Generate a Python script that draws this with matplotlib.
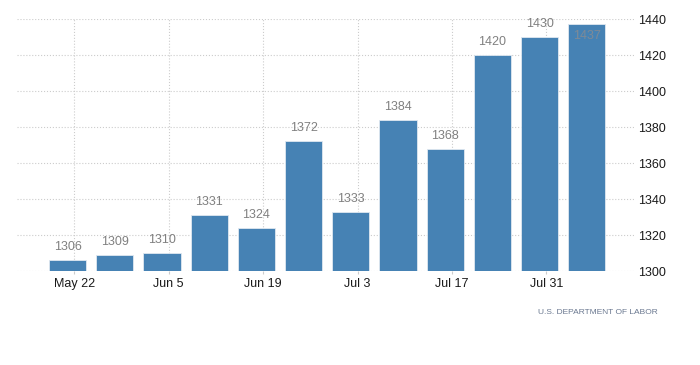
import numpy as np
import matplotlib
matplotlib.use('Agg')
import matplotlib.pyplot as plt
from datetime import datetime

plt.rcParams['font.family'] = ['Liberation Sans', 'DejaVu Sans']

weeks = ['2016-05-21', '2016-05-28', '2016-06-04', '2016-06-11', '2016-06-18', '2016-06-25',
         '2016-07-02', '2016-07-09', '2016-07-16', '2016-07-23', '2016-07-30', '2016-08-06']
claims = [1306, 1309, 1310, 1331, 1324, 1372, 1333, 1384, 1368, 1420, 1430, 1437]
tick_days = ['2016-05-22', '2016-06-05', '2016-06-19', '2016-07-03', '2016-07-17', '2016-07-31']
tick_labels = ['May 22', 'Jun 5', 'Jun 19', 'Jul 3', 'Jul 17', 'Jul 31']

dates = [datetime.strptime(d, '%Y-%m-%d') for d in weeks]
ticks = [datetime.strptime(d, '%Y-%m-%d') for d in tick_days]

fig = plt.figure(figsize=(7, 3.65), dpi=100)
ax = fig.add_axes([17/700, 1 - 271/365, (634 - 17)/700, (271 - 19)/365])

ax.bar(dates, [c - 1300 for c in claims], bottom=1300, width=5.5,
       color='#4682b4', edgecolor='#dfe8f0', linewidth=0.6, zorder=3)

ymax = 1440
for d, v in zip(dates, claims):
    if v + 8 > ymax:
        ax.annotate(str(v), (d, v), xytext=(0, -4), textcoords='offset points',
                    ha='center', va='top', fontsize=9, color='#7f8a96', zorder=4)
    else:
        ax.annotate(str(v), (d, v), xytext=(0, 5), textcoords='offset points',
                    ha='center', va='bottom', fontsize=9, color='#808080', zorder=4)

ax.set_xlim(datetime(2016, 5, 13, 12), datetime(2016, 8, 13))
ax.set_ylim(1300, ymax)
ax.set_xticks(ticks)
ax.set_xticklabels(tick_labels)
ax.set_yticks(np.arange(1300, 1441, 20))

ax.yaxis.tick_right()
ax.tick_params(axis='y', length=0, pad=3, labelsize=9, labelcolor='#1a1a1a')
ax.tick_params(axis='x', length=2, color='#cccccc', pad=3, labelsize=9, labelcolor='#1a1a1a')

ax.grid(True, linestyle=':', color='#cccccc', linewidth=0.8, zorder=0)
for s in ax.spines.values():
    s.set_visible(False)

fig.text(658/700, 1 - 312/365, 'U.S. DEPARTMENT OF LABOR', ha='right', va='center',
         fontsize=6, color='#6a7890')

fig.savefig('out.png', dpi=100)
